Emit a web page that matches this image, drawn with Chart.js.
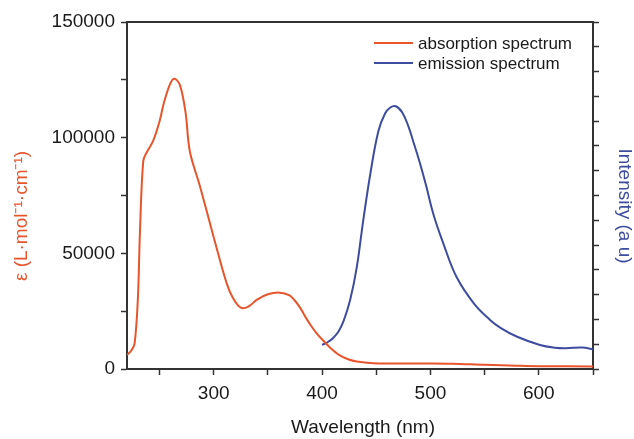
<!DOCTYPE html>
<html>
<head>
<meta charset="utf-8">
<script src="https://cdn.jsdelivr.net/npm/chart.js@4"></script>
<style>
  body { margin: 0; background: #fff; }
  canvas { display: block; }
</style>
</head>
<body>
<canvas id="chart-spectra" width="634" height="439"></canvas>
<script>
// absorption spectrum, epsilon in L/(mol*cm)
const absWavelength = [220, 224, 227, 230, 232, 235, 238, 244, 250, 254, 260, 264, 269, 274, 278, 287, 300, 312, 318, 325, 332, 340, 350, 361, 370, 375, 380, 385, 390, 395, 401, 408, 416, 424, 432, 447, 470, 500, 520, 550, 580, 600, 650];
const absValues = [6000, 8000, 11000, 30000, 60000, 90000, 93500, 98500, 107000, 115000, 123500, 125500, 122500, 111000, 94000, 79500, 57000, 37000, 30500, 26500, 27000, 30000, 32300, 33000, 31800, 29500, 26300, 22200, 18600, 15400, 12300, 9000, 6000, 4200, 3200, 2500, 2400, 2400, 2300, 1800, 1400, 1200, 1100];

// emission spectrum, arbitrary units (right axis)
const emWavelength = [400, 405, 410, 415, 420, 426, 432, 438, 445, 452, 458, 463, 468, 474, 480, 484, 490, 496, 503, 512, 524, 540, 555, 565, 580, 601, 615, 625, 640, 650];
const emValues = [0.97, 1.08, 1.24, 1.5, 1.95, 2.8, 4.1, 6.0, 8.0, 9.6, 10.3, 10.55, 10.6, 10.35, 9.75, 9.2, 8.35, 7.4, 6.2, 5.05, 3.72, 2.65, 1.98, 1.65, 1.3, 0.97, 0.86, 0.84, 0.87, 0.8];

const xTicks = [250, 300, 350, 400, 450, 500, 550, 600, 650];
const yTicks = [0, 25000, 50000, 75000, 100000, 125000, 150000];
const y2Ticks = [0, 1, 2, 3, 4, 5, 6, 7, 8, 9, 10, 11, 12, 13, 14];

const RED = '#e6552c';
const BLUE = '#3e4c9f';
const AXIS = '#333333';
const FONT = "'Liberation Sans', Arial, sans-serif";

const pinTicks = list => axis => { axis.ticks = list.map(v => ({ value: v })); };

// legend + axis titles drawn at fixed places
const decorations = {
  id: 'decorations',
  afterDraw(chart) {
    const ctx = chart.ctx;
    ctx.save();
    ctx.lineWidth = 2;
    ctx.font = '17px ' + FONT;
    ctx.textBaseline = 'middle';
    ctx.textAlign = 'left';
    const legend = [['absorption spectrum', RED, 43], ['emission spectrum', BLUE, 63]];
    legend.forEach(([label, color, y]) => {
      ctx.strokeStyle = color;
      ctx.beginPath();
      ctx.moveTo(374, y);
      ctx.lineTo(413, y);
      ctx.stroke();
      ctx.fillStyle = '#1a1a1a';
      ctx.fillText(label, 418, y + 1);
    });

    ctx.font = '19px ' + FONT;
    ctx.textAlign = 'center';
    ctx.fillStyle = '#1a1a1a';
    ctx.fillText('Wavelength (nm)', 363, 428);

    ctx.save();
    ctx.translate(22, 216);
    ctx.rotate(-Math.PI / 2);
    ctx.fillStyle = RED;
    ctx.fillText('ε (L·mol⁻¹·cm⁻¹)', 0, 0);
    ctx.restore();

    ctx.save();
    ctx.translate(624, 206);
    ctx.rotate(Math.PI / 2);
    ctx.fillStyle = BLUE;
    ctx.fillText('Intensity (a u)', 0, 0);
    ctx.restore();
    ctx.restore();
  }
};

const ctx = document.getElementById('chart-spectra').getContext('2d');
new Chart(ctx, {
  type: 'line',
  data: {
    datasets: [
      {
        label: 'absorption spectrum',
        data: absWavelength.map((x, i) => ({ x: x, y: absValues[i] })),
        borderColor: RED,
        borderWidth: 2,
        pointRadius: 0,
        tension: 0.35,
        yAxisID: 'y'
      },
      {
        label: 'emission spectrum',
        data: emWavelength.map((x, i) => ({ x: x, y: emValues[i] })),
        borderColor: BLUE,
        borderWidth: 2,
        pointRadius: 0,
        tension: 0.4,
        yAxisID: 'y2'
      }
    ]
  },
  options: {
    responsive: false,
    animation: false,
    events: [],
    layout: { padding: 0 },
    plugins: { legend: { display: false }, tooltip: { enabled: false } },
    scales: {
      x: {
        type: 'linear',
        position: 'bottom',
        min: 220,
        max: 650,
        afterBuildTicks: pinTicks(xTicks),
        afterFit: s => { s.height = 70; },
        border: { display: true, color: AXIS, width: 2 },
        grid: { drawOnChartArea: false, color: AXIS, tickLength: 6, tickWidth: 1.5 },
        ticks: {
          color: '#1a1a1a',
          font: { family: FONT, size: 19 },
          padding: 7,
          maxRotation: 0,
          autoSkip: false,
          callback: v => (v % 100 === 0 ? String(v) : '')
        }
      },
      xTop: {
        type: 'linear',
        position: 'top',
        min: 220,
        max: 650,
        afterFit: s => { s.height = 22; },
        border: { display: true, color: AXIS, width: 2 },
        grid: { display: false },
        ticks: { display: false }
      },
      y: {
        type: 'linear',
        position: 'left',
        min: 0,
        max: 150000,
        afterBuildTicks: pinTicks(yTicks),
        afterFit: s => { s.width = 127; },
        border: { display: true, color: AXIS, width: 2 },
        grid: { drawOnChartArea: false, color: AXIS, tickLength: 6, tickWidth: 1.5 },
        ticks: {
          color: '#1a1a1a',
          font: { family: FONT, size: 19 },
          padding: 6,
          autoSkip: false,
          callback: v => (v % 50000 === 0 ? String(v) : '')
        }
      },
      y2: {
        type: 'linear',
        position: 'right',
        min: 0,
        max: 14,
        afterBuildTicks: pinTicks(y2Ticks),
        afterFit: s => { s.width = 41; },
        border: { display: true, color: AXIS, width: 2 },
        grid: { drawOnChartArea: false, color: AXIS, tickLength: 6, tickWidth: 1.5 },
        ticks: { display: true, autoSkip: false, callback: () => '' }
      }
    }
  },
  plugins: [decorations]
});
</script>
</body>
</html>
